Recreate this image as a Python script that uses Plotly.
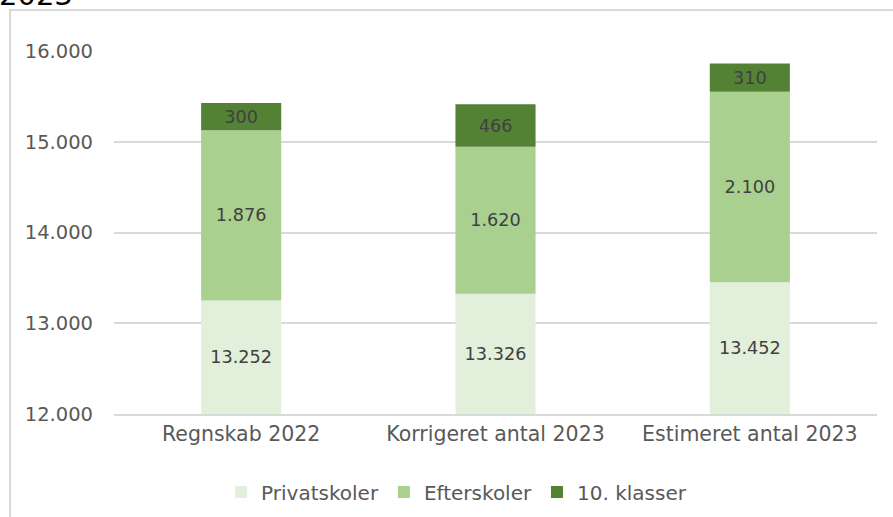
import plotly.graph_objects as go

categories = ["Regnskab 2022", "Korrigeret antal 2023", "Estimeret antal 2023"]
privatskoler = [13252, 13326, 13452]
efterskoler = [1876, 1620, 2100]
klasser10 = [300, 466, 310]
axis_min = 12000
tick_vals = [12000, 13000, 14000, 15000, 16000]

def fmt(v):
    return f"{v:,}".replace(",", ".")

W, H = 893, 517
ml, mr, mt, mb = 114, 16, 51, 103
pw, ph = W - ml - mr, H - mt - mb

font = "DejaVu Sans"
txtc = "#404040"
axc = "#595959"

base1 = [axis_min] * 3
y1 = [p - axis_min for p in privatskoler]
base2 = privatskoler
base3 = [p + e for p, e in zip(privatskoler, efterskoler)]

lbl = dict(color=txtc, size=20, family=font)
fig = go.Figure()
fig.add_bar(x=categories, y=y1, base=base1, name="Privatskoler",
            marker=dict(color="#E2EFDA", line=dict(width=0)),
            text=[fmt(v) for v in privatskoler], textposition="inside",
            insidetextanchor="middle", textfont=lbl)
fig.add_bar(x=categories, y=efterskoler, base=base2, name="Efterskoler",
            marker=dict(color="#A9D08E", line=dict(width=0)),
            text=[fmt(v) for v in efterskoler], textposition="inside",
            insidetextanchor="middle", textfont=lbl)
fig.add_bar(x=categories, y=klasser10, base=base3, name="10. klasser",
            marker=dict(color="#548235", line=dict(width=0)),
            text=[fmt(v) for v in klasser10], textposition="inside",
            insidetextanchor="middle", textfont=lbl)

def px_x(p):
    return (p - ml) / pw

def px_y(p):
    return (H - mb - p) / ph

fig.update_layout(
    width=W, height=H,
    margin=dict(l=ml, r=mr, t=mt, b=mb, autoexpand=False),
    barmode="overlay",
    bargap=0.685,
    plot_bgcolor="white", paper_bgcolor="white",
    font=dict(family=font, color=axc, size=19),
    uniformtext=dict(mode="show", minsize=10),
    xaxis=dict(showline=True, linecolor="#d9d9d9", linewidth=2,
               tickfont=dict(size=20.5, color=axc, family=font),
               ticks="", fixedrange=True, automargin=False),
    yaxis=dict(range=[axis_min, 16000], tickvals=tick_vals,
               ticktext=[fmt(v) for v in tick_vals],
               gridcolor="#d9d9d9", gridwidth=2, zeroline=False,
               tickfont=dict(size=19.5, color=axc, family=font),
               ticklabelstandoff=20, ticks="", automargin=False),
    legend=dict(orientation="h", x=0.449, xanchor="center", y=px_y(492), yanchor="middle",
                font=dict(size=20, color=axc, family=font),
                itemwidth=30, traceorder="normal", itemclick=False),
    showlegend=True,
    shapes=[dict(type="rect", xref="paper", yref="paper",
                 x0=px_x(10), x1=px_x(W + 20), y0=px_y(H + 20), y1=px_y(10),
                 line=dict(color="#d9d9d9", width=2), fillcolor="rgba(0,0,0,0)", layer="below")],
    annotations=[dict(text="2023", xref="paper", yref="paper", x=px_x(-3), y=px_y(14),
                      xanchor="left", yanchor="bottom", showarrow=False,
                      font=dict(size=29, color="#000000", family=font))],
)

fig.write_html("out.html", config={"displayModeBar": False},
               post_script="document.body.style.margin='0';")
